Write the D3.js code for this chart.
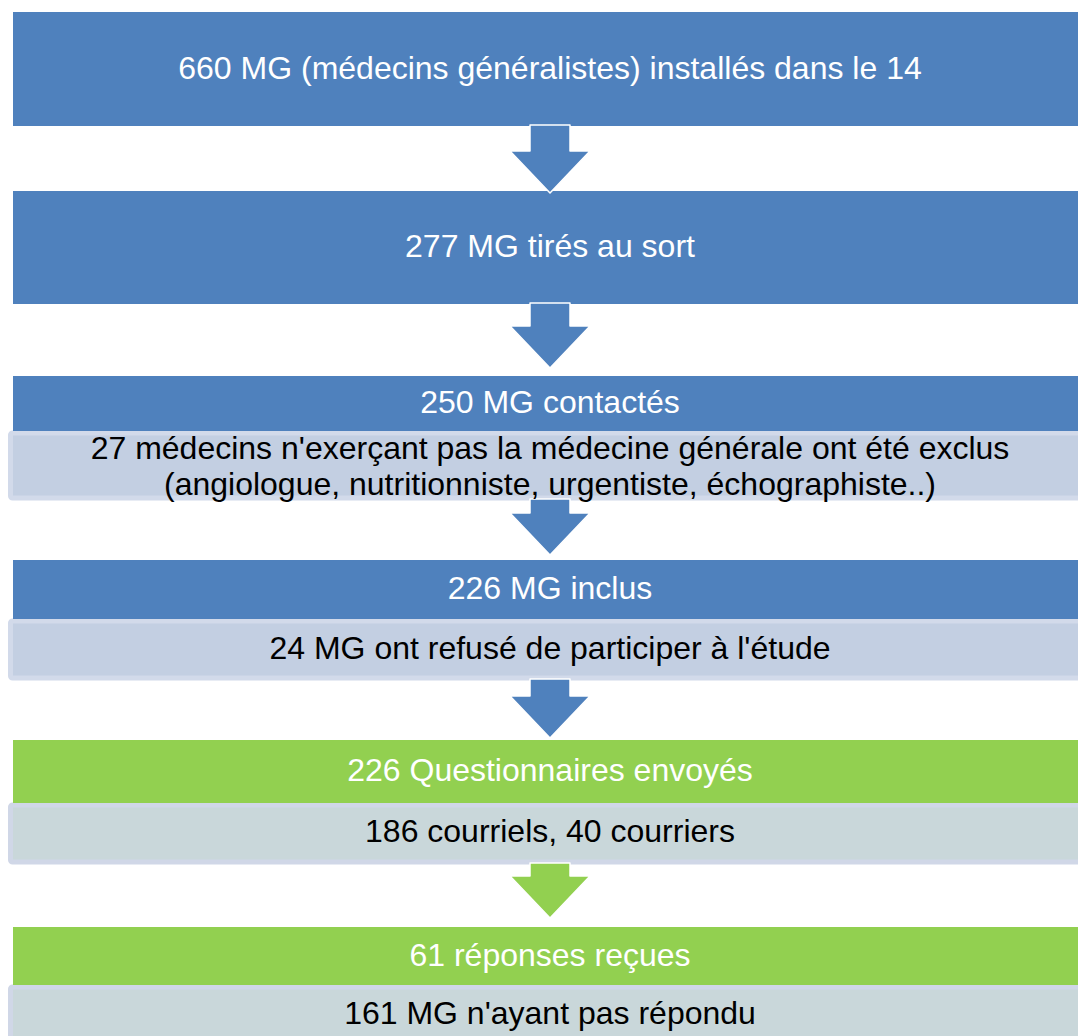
<!DOCTYPE html>
<html>
<head>
<meta charset="utf-8">
<script src="https://cdn.jsdelivr.net/npm/d3@7"></script>
<style>
html,body{margin:0;padding:0;background:#fff;overflow:hidden}
svg{display:block}
text{font-family:"Liberation Sans",Arial,sans-serif}
</style>
</head>
<body>
<script>
// ---- data ----
const stepLabels = [
  "660 MG (médecins généralistes) installés dans le 14",
  "277 MG tirés au sort",
  "250 MG contactés",
  "226 MG inclus",
  "226 Questionnaires envoyés",
  "61 réponses reçues"
];
const stepNotes = [
  null,
  null,
  ["27 médecins n'exerçant pas la médecine générale ont été exclus", "(angiologue, nutritionniste, urgentiste, échographiste..)"],
  ["24 MG ont refusé de participer à l'étude"],
  ["186 courriels, 40 courriers"],
  ["161 MG n'ayant pas répondu"]
];
const stepPhase = ["selection","selection","selection","selection","envoi","envoi"];

// ---- layout / styles ----
const W = 1078, H = 1036;
const mainTop    = [12, 191, 376, 560, 740, 927];
const mainBottom = [126, 304, 431, 619, 803, 985];
const noteBottom = [null, null, 500, 680, 864, 1045];
const arrowTip   = [193, 368, 555, 738, 918];
const noteTextY  = [null, null, [449, 485], [649], [832], [1014]];
const colors = {
  selection: {main:"#4f81bd", noteFill:"#c3cfe2", noteStroke:"#d2daea"},
  envoi:     {main:"#92d050", noteFill:"#c9d7da", noteStroke:"#d0d7e7"}
};
const fontSize = 32;
const x = d3.scaleLinear().domain([0,1]).range([13, 1087]);
const cx = x(0.5);

const svg = d3.select("body").append("svg").attr("width", W).attr("height", H);

const steps = stepLabels.map((label,i)=>({label, note: stepNotes[i], phase: stepPhase[i], i}));

const boxG = svg.selectAll("g.step").data(steps).join("g").attr("class","step");

// note boxes
boxG.filter(d => d.note).append("rect")
  .attr("x", 10.5).attr("width", 1100)
  .attr("y", d => mainBottom[d.i] + 2)
  .attr("height", d => noteBottom[d.i] - mainBottom[d.i] - 4)
  .attr("rx", 2)
  .attr("fill", d => colors[d.phase].noteFill)
  .attr("stroke", d => colors[d.phase].noteStroke)
  .attr("stroke-width", 5);

// main boxes
boxG.append("rect")
  .attr("x", x(0)).attr("width", x(1) - x(0))
  .attr("y", d => mainTop[d.i])
  .attr("height", d => mainBottom[d.i] - mainTop[d.i])
  .attr("fill", d => colors[d.phase].main);

// arrows
const arrowG = svg.append("g");
const shaftHalf = 20, headHalf = 40, headH = 42;
steps.slice(0, -1).forEach((s, i) => {
  const top = (s.note ? noteBottom[i] : mainBottom[i]) - 1;
  const tip = arrowTip[i];
  const hs = tip - headH;
  const pts = [
    [cx - shaftHalf, top], [cx + shaftHalf, top], [cx + shaftHalf, hs], [cx + headHalf, hs],
    [cx, tip], [cx - headHalf, hs], [cx - shaftHalf, hs]
  ];
  arrowG.append("path")
    .attr("d", d3.line()(pts) + "Z")
    .attr("fill", colors[s.phase].main)
    .attr("stroke", "#fff").attr("stroke-width", 1.5).attr("stroke-linejoin", "round");
});

// main labels
svg.selectAll("text.main").data(steps).join("text")
  .attr("class","main")
  .attr("x", cx)
  .attr("y", d => (mainTop[d.i] + mainBottom[d.i]) / 2)
  .attr("dy", "0.3em")
  .attr("text-anchor", "middle")
  .attr("font-size", fontSize)
  .attr("fill", "#fff")
  .text(d => d.label);

// note labels
steps.filter(d => d.note).forEach(d => {
  d.note.forEach((line, k) => {
    svg.append("text")
      .attr("x", cx)
      .attr("y", noteTextY[d.i][k])
      .attr("dy", "0.3em")
      .attr("text-anchor", "middle")
      .attr("font-size", fontSize)
      .attr("fill", "#000")
      .text(line);
  });
});
</script>
</body>
</html>
